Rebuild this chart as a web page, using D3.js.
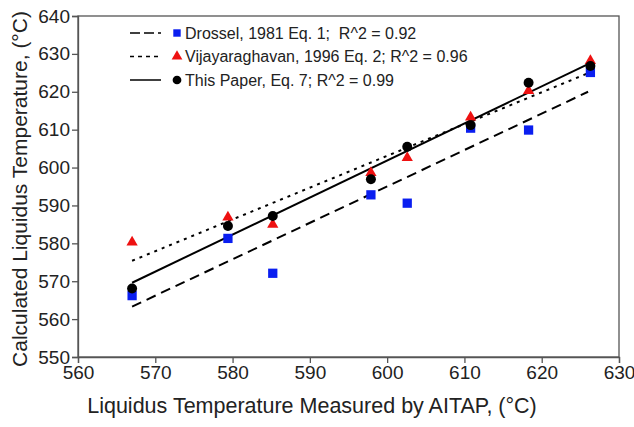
<!DOCTYPE html>
<html>
<head>
<meta charset="utf-8">
<script src="https://cdn.jsdelivr.net/npm/d3@7"></script>
<style>
  body { margin: 0; background: #fff; }
  text { font-family: "Liberation Sans", Arial, sans-serif; fill: #222; }
</style>
</head>
<body>
<div class="chart"></div>
<script>
// measured (x) values, shared by all three series
var measured = [567, 579.4, 585.2, 597.9, 602.6, 610.8, 618.3, 626.3];
var drossel = [566.2, 581.3, 572.1, 592.8, 590.6, 610.4, 609.9, 625.1];
var vijay = [580.3, 586.9, 585.0, 598.6, 602.6, 613.3, 620.3, 628.2];
var thisPaper = [568.1, 584.6, 587.2, 596.9, 605.5, 611.2, 622.4, 626.8];

// fit lines, endpoints
var fitX = [567, 626];
var drosselFit = [563.3, 620.0];
var vijayFit = [575.4, 624.9];
var paperFit = [569.6, 627.3];

var xTicks = [560, 570, 580, 590, 600, 610, 620, 630];
var yTicks = [550, 560, 570, 580, 590, 600, 610, 620, 630, 640];

var legendLabels = ['Drossel, 1981 Eq. 1;  R^2 = 0.92',
                    'Vijayaraghavan, 1996 Eq. 2; R^2 = 0.96',
                    'This Paper, Eq. 7; R^2 = 0.99'];

var margin = {top: 16, right: 15, bottom: 70, left: 78},
    width = 634 - margin.left - margin.right,
    height = 427 - margin.top - margin.bottom;

var svg = d3.select('.chart').append('svg')
    .attr('width', 634)
    .attr('height', 427);

var g = svg.append('g')
    .attr('transform', 'translate(' + margin.left + ',' + margin.top + ')');

var x = d3.scaleLinear().domain([560, 630]).range([0, width]),
    y = d3.scaleLinear().domain([550, 640]).range([height, 0]);

// frame
g.append('rect')
    .attr('width', width)
    .attr('height', height)
    .attr('fill', 'none')
    .attr('stroke', '#555')
    .attr('stroke-width', 1.3);

var xAxis = g.append('g')
    .attr('transform', 'translate(0,' + height + ')')
    .call(d3.axisBottom(x).tickValues(xTicks).tickSize(6).tickPadding(3));
var yAxis = g.append('g')
    .call(d3.axisLeft(y).tickValues(yTicks).tickSize(6).tickPadding(2));

[xAxis, yAxis].forEach(function(a) {
    a.select('.domain').attr('stroke', '#555').attr('stroke-width', 1.3);
    a.selectAll('.tick line').attr('stroke', '#555').attr('stroke-width', 1.3);
    a.selectAll('.tick text')
        .style('font-family', '"Liberation Sans", Arial, sans-serif')
        .style('font-size', '19px')
        .attr('fill', '#222');
});

svg.append('text')
    .attr('transform', 'rotate(-90)')
    .attr('x', -189)
    .attr('y', 27)
    .style('text-anchor', 'middle')
    .style('font-size', '21px')
    .text('Calculated Liquidus Temperature, (\u00B0C)');

svg.append('text')
    .attr('x', 312)
    .attr('y', 413)
    .style('text-anchor', 'middle')
    .style('font-size', '21.5px')
    .text('Liquidus Temperature Measured by AITAP, (\u00B0C)');

// fit lines
var lineGen = d3.line()
    .x(function(d) { return x(d[0]); })
    .y(function(d) { return y(d[1]); });

var fits = [
    {vals: drosselFit, dash: '10,6'},
    {vals: vijayFit, dash: '3,5'},
    {vals: paperFit, dash: null}
];
fits.forEach(function(f) {
    g.append('path')
        .datum(fitX.map(function(v, i) { return [v, f.vals[i]]; }))
        .attr('d', lineGen)
        .attr('fill', 'none')
        .attr('stroke', '#000')
        .attr('stroke-width', 2)
        .attr('stroke-dasharray', f.dash);
});

// markers
var sq = d3.symbol().type(d3.symbolSquare).size(86),
    tri = d3.symbol().type(d3.symbolTriangle).size(55),
    circ = d3.symbol().type(d3.symbolCircle).size(78);

function plotSeries(vals, sym, color) {
    g.selectAll(null)
        .data(vals)
        .enter().append('path')
        .attr('d', sym)
        .attr('fill', color)
        .attr('transform', function(d, i) {
            return 'translate(' + x(measured[i]) + ',' + y(d) + ')';
        });
}
plotSeries(drossel, sq, '#0a1ef0');
plotSeries(vijay, tri, '#ee1111');
plotSeries(thisPaper, circ, '#000');

// legend
var legend = svg.append('g');
var legendColors = ['#0a1ef0', '#ee1111', '#000'],
    legendDash = ['10,4', '4,4', null],
    legendSizes = [55, 50, 60];

legendLabels.forEach(function(lab, i) {
    var ly = 33 + i * 23.5;
    legend.append('line')
        .attr('x1', 130).attr('x2', 161)
        .attr('y1', ly).attr('y2', ly)
        .attr('stroke', '#000')
        .attr('stroke-width', 1.5)
        .attr('stroke-dasharray', legendDash[i]);
    legend.append('path')
        .attr('d', d3.symbol().type([d3.symbolSquare, d3.symbolTriangle, d3.symbolCircle][i]).size(legendSizes[i]))
        .attr('fill', legendColors[i])
        .attr('transform', 'translate(177,' + ly + ')');
    legend.append('text')
        .attr('x', 185)
        .attr('y', ly + 5.5)
        .style('font-size', '16px')
        .style('white-space', 'pre')
        .text(lab);
});
</script>
</body>
</html>
